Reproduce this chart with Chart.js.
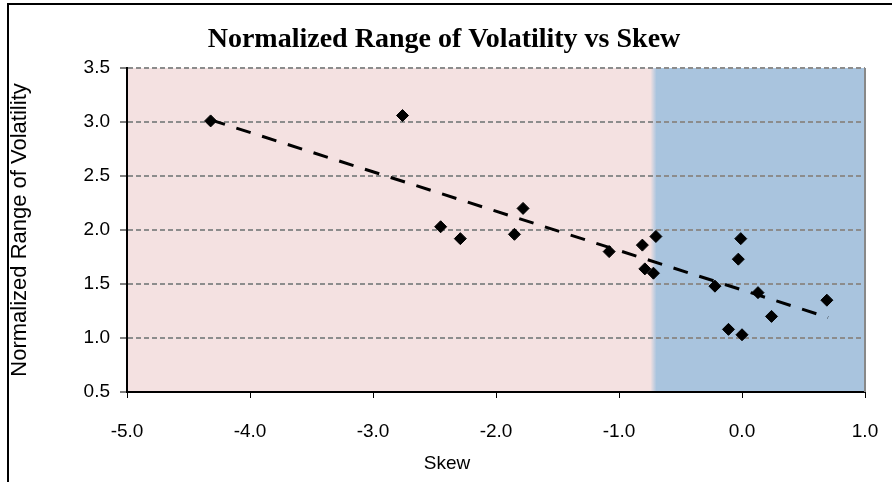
<!DOCTYPE html>
<html>
<head>
<meta charset="utf-8">
<script src="https://cdn.jsdelivr.net/npm/chart.js@4.4.1/dist/chart.umd.min.js"></script>
<style>
  body { margin: 0; background: #fff; }
  canvas { display: block; }
</style>
</head>
<body>
<canvas id="skewChart" width="892" height="482"></canvas>
<script>
// data
const skew      = [-4.32, -2.76, -2.45, -2.29, -1.78, -1.85, -1.08, -0.81, -0.70, -0.79, -0.72, -0.22, -0.01, -0.03, 0.13, 0.24, -0.11, 0.00, 0.69];
const normRange = [ 3.01,  3.06,  2.03,  1.92,  2.20,  1.96,  1.80,  1.86,  1.94,  1.64,  1.60,  1.48,  1.92,  1.73, 1.42, 1.20,  1.08, 1.03, 1.35];
const trendX = [-4.32, 0.70];
const trendY = [3.02, 1.19];
const shadeSplit = -0.72;   // where pink turns to blue

const chartTitle = 'Normalized Range of Volatility vs Skew';
const xTitle = 'Skew';

const pink = '#f4e1e1';
const blue = '#a9c4de';
const sans = '"Liberation Sans", Arial, sans-serif';

// shaded plot background, frame, titles
const backdrop = {
    id: 'backdrop',
    beforeDraw(chart) {
        const c = chart.ctx, a = chart.chartArea;
        const xb = chart.scales.x.getPixelForValue(shadeSplit);
        c.save();
        c.fillStyle = '#fff';
        c.fillRect(0, 0, chart.width, chart.height);
        const g = c.createLinearGradient(a.left, 0, a.right, 0);
        const w = a.right - a.left;
        g.addColorStop(0, pink);
        g.addColorStop((xb - 3 - a.left) / w, pink);
        g.addColorStop((xb + 3 - a.left) / w, blue);
        g.addColorStop(1, blue);
        c.fillStyle = g;
        c.fillRect(a.left, a.top, w, a.bottom - a.top);
        // outer border (top + left only, rest is cropped)
        c.strokeStyle = '#000';
        c.lineWidth = 2;
        c.beginPath();
        c.moveTo(8, chart.height);
        c.lineTo(8, 4);
        c.lineTo(chart.width, 4);
        c.stroke();
        c.restore();
    },
    afterDraw(chart) {
        const c = chart.ctx, a = chart.chartArea;
        c.save();
        c.strokeStyle = '#888';
        c.lineWidth = 2;
        c.beginPath();
        c.moveTo(a.right, a.top);
        c.lineTo(a.right, a.bottom);
        c.stroke();
        c.fillStyle = '#000';
        c.textAlign = 'center';
        c.textBaseline = 'middle';
        c.font = 'bold 28px "Liberation Serif", "Times New Roman", serif';
        c.fillText(chartTitle, 444, 40);
        c.font = '19px ' + sans;
        c.fillText(xTitle, 447, 464);
        c.restore();
    }
};

const ctx = document.getElementById('skewChart').getContext('2d');
new Chart(ctx, {
    type: 'scatter',
    data: {
        datasets: [{
            label: 'Normalized Range',
            data: skew.map((x, i) => ({ x: x, y: normRange[i] })),
            backgroundColor: '#000',
            borderColor: '#000',
            pointStyle: 'rectRot',
            pointRadius: 6,
            pointHoverRadius: 6
        }, {
            label: 'Trend',
            type: 'line',
            data: trendX.map((x, i) => ({ x: x, y: trendY[i] })),
            borderColor: '#000',
            borderWidth: 3,
            borderDash: [15, 12],
            borderCapStyle: 'butt',
            pointRadius: 0,
            fill: false
        }]
    },
    options: {
        responsive: false,
        animation: false,
        layout: { padding: { left: 0, right: 27, top: 68, bottom: 0 } },
        plugins: {
            legend: { display: false },
            tooltip: { enabled: false },
            title: { display: false }
        },
        scales: {
            x: {
                type: 'linear',
                min: -5,
                max: 1,
                ticks: {
                    stepSize: 1,
                    color: '#000',
                    padding: 22,
                    font: { family: sans, size: 19 },
                    callback: v => v.toFixed(1)
                },
                grid: { drawOnChartArea: false, tickLength: 6, tickColor: '#000', tickWidth: 1 },
                border: { color: '#000', width: 2 },
                afterFit(scale) {
                    scale.height = 90;
                    scale.paddingLeft = 0;
                    scale.paddingRight = 0;
                }
            },
            y: {
                min: 0.5,
                max: 3.5,
                ticks: {
                    stepSize: 0.5,
                    color: '#000',
                    padding: 10,
                    font: { family: sans, size: 19 },
                    callback: v => v.toFixed(1)
                },
                grid: { color: '#8c8c8c', lineWidth: 2, tickLength: 7, tickColor: '#000', tickWidth: 1, tickBorderDash: [] },
                border: { color: '#000', width: 2, dash: [5, 3] },
                title: {
                    display: true,
                    text: 'Normalized Range of Volatility',
                    color: '#000',
                    font: { family: sans, size: 22 },
                    padding: { top: 7, bottom: 0 }
                },
                afterFit(scale) { scale.width = 127; }
            }
        }
    },
    plugins: [backdrop]
});
</script>
</body>
</html>
